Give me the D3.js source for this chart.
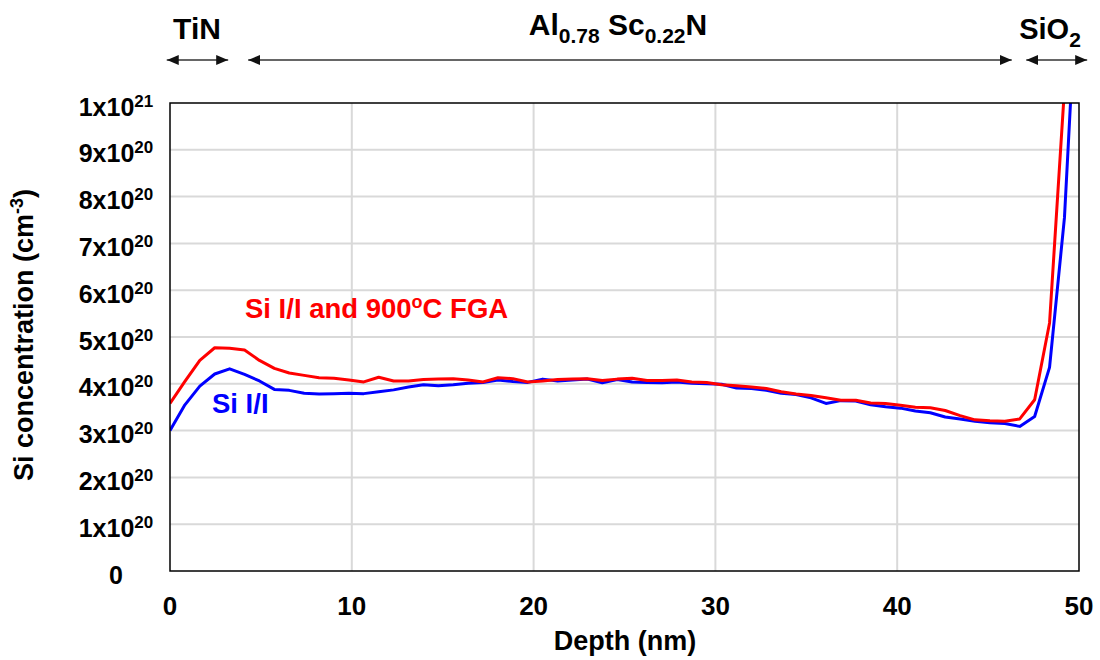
<!DOCTYPE html>
<html>
<head>
<meta charset="utf-8">
<script src="https://cdn.jsdelivr.net/npm/d3@7"></script>
<style>
  html, body { margin: 0; padding: 0; background: #fff; }
  svg text { font-family: "Liberation Sans", Arial, sans-serif; font-weight: bold; }
</style>
</head>
<body>
<svg id="chart" width="1100" height="660"></svg>
<script>
// Depth grid (nm) shared by both SIMS profiles
const depth = [0, 0.82, 1.64, 2.46, 3.28, 4.10, 4.92, 5.74, 6.56, 7.38, 8.20, 9.02, 9.84, 10.66,
  11.48, 12.30, 13.12, 13.94, 14.76, 15.58, 16.40, 17.22, 18.04, 18.86, 19.68, 20.50, 21.32,
  22.14, 22.96, 23.78, 24.60, 25.42, 26.24, 27.06, 27.88, 28.70, 29.52, 30.34, 31.16, 31.98,
  32.80, 33.62, 34.44, 35.26, 36.08, 36.90, 37.72, 38.54, 39.36, 40.18, 41.00, 41.82, 42.64,
  43.46, 44.28, 45.10, 45.92, 46.74, 47.56, 48.38, 49.20, 50.02];

// Si concentration, units of 1e20 cm^-3
const siAnnealed = [3.58, 4.05, 4.50, 4.77, 4.76, 4.72, 4.50, 4.33, 4.23, 4.18, 4.13, 4.12, 4.08, 4.04,
  4.14, 4.06, 4.06, 4.09, 4.10, 4.11, 4.08, 4.04, 4.13, 4.11, 4.04, 4.06, 4.09,
  4.10, 4.11, 4.07, 4.10, 4.12, 4.07, 4.07, 4.08, 4.04, 4.03, 3.98, 3.96, 3.93,
  3.90, 3.83, 3.78, 3.75, 3.70, 3.65, 3.65, 3.59, 3.58, 3.54, 3.50, 3.49, 3.43,
  3.32, 3.23, 3.21, 3.20, 3.25, 3.66, 5.30, 10.3, 15.0];

const siImplanted = [3.00, 3.55, 3.95, 4.21, 4.32, 4.20, 4.06, 3.88, 3.86, 3.80, 3.78, 3.79, 3.80, 3.79,
  3.83, 3.87, 3.93, 3.98, 3.96, 3.98, 4.01, 4.03, 4.08, 4.05, 4.03, 4.10, 4.06,
  4.08, 4.10, 4.02, 4.09, 4.04, 4.03, 4.02, 4.04, 4.01, 4.00, 3.99, 3.91, 3.90,
  3.86, 3.80, 3.77, 3.70, 3.58, 3.64, 3.63, 3.55, 3.51, 3.48, 3.42, 3.38, 3.29,
  3.25, 3.20, 3.17, 3.15, 3.09, 3.30, 4.35, 7.55, 13.6];

const xTicks = [0, 10, 20, 30, 40, 50];
const yTicks = [0, 1, 2, 3, 4, 5, 6, 7, 8, 9, 10];
const yTickBase = ["0", "1x10", "2x10", "3x10", "4x10", "5x10", "6x10", "7x10", "8x10", "9x10", "1x10"];
const yTickSup = ["", "20", "20", "20", "20", "20", "20", "20", "20", "20", "21"];

// Layer extents along depth (nm) for the stack annotation
const layerNames = ["TiN", "AlScN", "SiO2"];
const layerStart = [-0.18, 4.3, 47.1];
const layerEnd = [3.2, 46.3, 50.45];

const svg = d3.select("#chart");
const plotL = 170, plotR = 1079, plotT = 103, plotB = 571;

const x = d3.scaleLinear().domain([0, 50]).range([plotL, plotR]);
const y = d3.scaleLinear().domain([0, 10]).range([plotB, plotT]);

// Grid
const grid = svg.append("g");
grid.selectAll("line.hg").data(yTicks.slice(1, -1)).join("line")
  .attr("x1", plotL).attr("x2", plotR)
  .attr("y1", d => y(d)).attr("y2", d => y(d))
  .attr("stroke", "#d9d9d9").attr("stroke-width", 2);
grid.selectAll("line.vg").data(xTicks.slice(1, -1)).join("line")
  .attr("x1", d => x(d)).attr("x2", d => x(d))
  .attr("y1", plotT).attr("y2", plotB)
  .attr("stroke", "#d9d9d9").attr("stroke-width", 2);

// Profiles
const defs = svg.append("defs");
defs.append("clipPath").attr("id", "plotClip")
  .append("rect").attr("x", plotL).attr("y", plotT).attr("width", plotR - plotL).attr("height", plotB - plotT);

const line = d3.line().x(d => x(d[0])).y(d => y(d[1]));
const lines = svg.append("g").attr("clip-path", "url(#plotClip)");
lines.append("path").datum(depth.map((d, i) => [d, siImplanted[i]]))
  .attr("d", line).attr("fill", "none").attr("stroke", "#0000ff")
  .attr("stroke-width", 3).attr("stroke-linejoin", "round");
lines.append("path").datum(depth.map((d, i) => [d, siAnnealed[i]]))
  .attr("d", line).attr("fill", "none").attr("stroke", "#ff0000")
  .attr("stroke-width", 3).attr("stroke-linejoin", "round");

// Frame
svg.append("rect").attr("x", plotL).attr("y", plotT)
  .attr("width", plotR - plotL).attr("height", plotB - plotT)
  .attr("fill", "none").attr("stroke", "#000").attr("stroke-width", 1.5);

// Y tick labels
const yl = svg.append("g").selectAll("text").data(yTicks).join("text")
  .attr("x", 116).attr("y", d => y(d) + 12.5)
  .attr("text-anchor", "middle").attr("font-size", 25).attr("fill", "#000");
yl.append("tspan").text((d, i) => yTickBase[i]);
yl.append("tspan").attr("font-size", 17).attr("dy", -9).text((d, i) => yTickSup[i]);

// X tick labels
svg.append("g").selectAll("text").data(xTicks).join("text")
  .attr("x", d => x(d)).attr("y", 615)
  .attr("text-anchor", "middle").attr("font-size", 26).attr("fill", "#000")
  .text(d => d);

// Axis titles
svg.append("text").attr("x", 625).attr("y", 650).attr("text-anchor", "middle")
  .attr("font-size", 27).text("Depth (nm)");
const yt = svg.append("text").attr("transform", "translate(33,335) rotate(-90)")
  .attr("text-anchor", "middle").attr("font-size", 27);
yt.append("tspan").text("Si concentration (cm");
yt.append("tspan").attr("font-size", 18).attr("dy", -10).text("-3");
yt.append("tspan").attr("dy", 10).text(")");

// Series labels
const redLbl = svg.append("text").attr("x", 245).attr("y", 318)
  .attr("font-size", 27.5).attr("fill", "#ff0000");
redLbl.append("tspan").text("Si I/I and 900");
redLbl.append("tspan").attr("font-size", 18).attr("dy", -10).text("o");
redLbl.append("tspan").attr("dy", 10).text("C FGA");
svg.append("text").attr("x", 212).attr("y", 413)
  .attr("font-size", 27.5).attr("fill", "#0000ff").text("Si I/I");

// Layer stack annotation
defs.append("marker").attr("id", "ahead").attr("viewBox", "0 0 12 10")
  .attr("refX", 12).attr("refY", 5).attr("markerWidth", 12).attr("markerHeight", 10)
  .attr("markerUnits", "userSpaceOnUse").attr("orient", "auto-start-reverse")
  .append("path").attr("d", "M0,0 L12,5 L0,10 Z").attr("fill", "#111");

svg.append("g").selectAll("line").data(layerNames).join("line")
  .attr("x1", (d, i) => x(layerStart[i])).attr("x2", (d, i) => x(layerEnd[i]))
  .attr("y1", 60).attr("y2", 60)
  .attr("stroke", "#333").attr("stroke-width", 1.5)
  .attr("marker-start", "url(#ahead)").attr("marker-end", "url(#ahead)");

svg.append("text").attr("x", 197).attr("y", 39).attr("text-anchor", "middle")
  .attr("font-size", 30).text("TiN");

const al = svg.append("text").attr("x", 618).attr("y", 35).attr("text-anchor", "middle")
  .attr("font-size", 30);
al.append("tspan").text("Al");
al.append("tspan").attr("font-size", 21).attr("dy", 8).text("0.78");
al.append("tspan").attr("dy", -8).text(" Sc");
al.append("tspan").attr("font-size", 21).attr("dy", 8).text("0.22");
al.append("tspan").attr("dy", -8).text("N");

const si = svg.append("text").attr("x", 1050).attr("y", 39).attr("text-anchor", "middle")
  .attr("font-size", 29);
si.append("tspan").text("SiO");
si.append("tspan").attr("font-size", 21).attr("dy", 8).text("2");
</script>
</body>
</html>
